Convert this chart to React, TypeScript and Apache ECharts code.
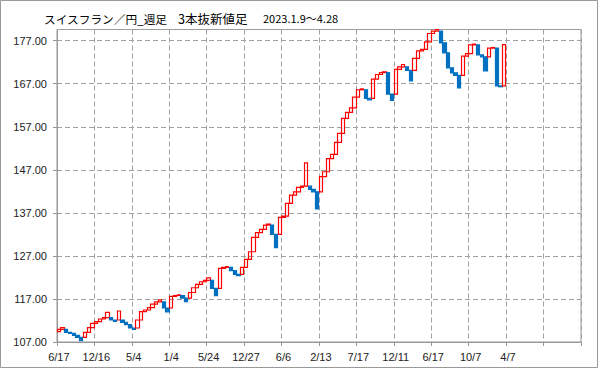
import React, { useEffect, useRef } from 'react';
import * as echarts from 'echarts';

// ---- data ----
const firstOpen = 109.4;
const closes = [
  109.94, 110.33, 109.24, 109.01, 108.55, 108.08, 107.31, 109.24, 110.33, 111.33,
  111.72, 112.34, 112.65, 113.89, 112.11, 111.8, 114.2, 111.57, 111.02, 110.25,
  109.94, 112.11, 114.04, 114.43, 114.97, 115.82, 116.3, 116.8, 114.9, 114.0,
  117.6, 117.8, 117.95, 117.2, 116.4, 118.5, 119.6, 120.4, 121.0, 121.3,
  121.9, 119.46, 117.76, 124.1, 124.34, 124.49, 123.6, 122.71, 122.4, 124.34,
  126.19, 127.97, 131.3, 132.39, 133.16, 134.17, 134.4, 132.0, 128.9, 135.95,
  136.26, 139.2, 141.13, 141.9, 142.9, 143.2, 148.63, 142.45, 141.9, 137.9,
  145.4, 146.55, 149.6, 150.58, 153.36, 155.45, 158.93, 160.33, 161.41, 163.89,
  165.6, 165.8, 163.58, 163.27, 168.06, 169.15, 169.6, 169.77, 164.6, 163.15,
  170.35, 170.9, 171.47, 170.1, 167.65, 172.9, 174.65, 174.96, 176.74, 178.67,
  179.2, 179.6, 176.5, 174.18, 170.7, 169.54, 168.92, 166.06, 173.4, 174.0,
  176.04, 176.2, 173.7, 173.25, 170.0, 175.27, 175.42, 166.5, 166.3, 176.1,
];
const dateLabels = ['6/17', '12/16', '5/4', '1/4', '5/24', '12/27', '6/6', '2/13', '7/17', '12/11', '6/17', '10/7', '4/7'];
const slotCount = 140;
const labelStep = 10;
const yMin = 107;
const yMax = 179.6;
const yStep = 10;
const titleMain = 'スイスフラン／円_週足';
const titleSub = '3本抜新値足';
const titlePeriod = '2023.1.9～4.28';

function buildLines() {
  const out: number[][] = [];
  let up = true;
  let prevOpen = firstOpen;
  let prevClose = closes[0];
  out.push([firstOpen, closes[0], Math.min(firstOpen, closes[0]), Math.max(firstOpen, closes[0])]);
  for (let i = 1; i < closes.length; i++) {
    const c = closes[i];
    let o: number;
    if (up) {
      if (c > prevClose) o = prevClose;
      else { o = prevOpen; up = false; }
    } else {
      if (c < prevClose) o = prevClose;
      else { o = prevOpen; up = true; }
    }
    out.push([o, c, Math.min(o, c), Math.max(o, c)]);
    prevOpen = o;
    prevClose = c;
  }
  return out;
}

export default function App() {
  const ref = useRef<HTMLDivElement>(null);
  useEffect(() => {
    if (!ref.current) return;
    const chart = echarts.init(ref.current, undefined, { renderer: 'svg' });
    const categories = Array.from({ length: slotCount }, (_, i) => String(i));
    const gray = '#999999';
    const labelFont = '"Liberation Sans", Arial, sans-serif';
    const cjkFont = '"Noto Sans CJK JP", sans-serif';
    chart.setOption({
      animation: false,
      backgroundColor: '#ffffff',
      grid: {
        left: 57, right: 18, top: 29.5, bottom: 27,
        show: true, borderColor: gray, borderWidth: 1,
      },
      graphic: [
        { type: 'rect', shape: { x: 0.5, y: 0.5, width: 597, height: 367 }, style: { fill: 'none', stroke: gray, lineWidth: 1 } },
        { type: 'text', x: 44, y: 18, style: { text: titleMain, fontSize: 11.7, fontFamily: cjkFont, fill: '#000', verticalAlign: 'middle' } },
        { type: 'text', x: 178, y: 18, style: { text: titleSub, fontSize: 12.5, fontFamily: cjkFont, fill: '#000', verticalAlign: 'middle' } },
        { type: 'text', x: 263, y: 18, style: { text: titlePeriod, fontSize: 11, fontFamily: cjkFont, fill: '#000', verticalAlign: 'middle' } },
      ],
      xAxis: {
        type: 'category',
        data: categories,
        boundaryGap: true,
        axisLine: { lineStyle: { color: gray, width: 1 } },
        axisTick: { show: true, interval: labelStep - 1, length: 4, lineStyle: { color: gray } },
        axisLabel: {
          interval: labelStep - 1,
          margin: 9,
          fontSize: 11,
          fontFamily: labelFont,
          color: '#222',
          formatter: (_v: string, idx: number) => (idx % labelStep === 0 ? (dateLabels[idx / labelStep] ?? '') : ''),
        },
        splitLine: { show: true, interval: labelStep - 1, lineStyle: { color: '#a0a0a0', type: [5, 3], width: 1 } },
      },
      yAxis: {
        type: 'value',
        min: yMin,
        max: yMax,
        interval: yStep,
        axisLine: { show: true, lineStyle: { color: gray, width: 1 } },
        axisTick: { show: true, length: 4, lineStyle: { color: gray } },
        axisLabel: {
          showMaxLabel: false,
          margin: 10,
          fontSize: 11,
          fontFamily: labelFont,
          color: '#222',
          formatter: (v: number) => v.toFixed(2),
        },
        splitLine: { show: true, lineStyle: { color: '#a0a0a0', type: [5, 3], width: 1 } },
      },
      series: [
        {
          type: 'candlestick',
          data: buildLines(),
          barWidth: '100%',
          itemStyle: {
            color: 'rgba(255,255,255,0)',
            borderColor: '#ff0000',
            color0: '#0070c0',
            borderColor0: '#0070c0',
            borderWidth: 1.2,
          },
        },
      ],
    });
    return () => chart.dispose();
  }, []);
  return <div ref={ref} style={{ position: 'fixed', left: 0, top: 0, width: 599, height: 369 }} />;
}
